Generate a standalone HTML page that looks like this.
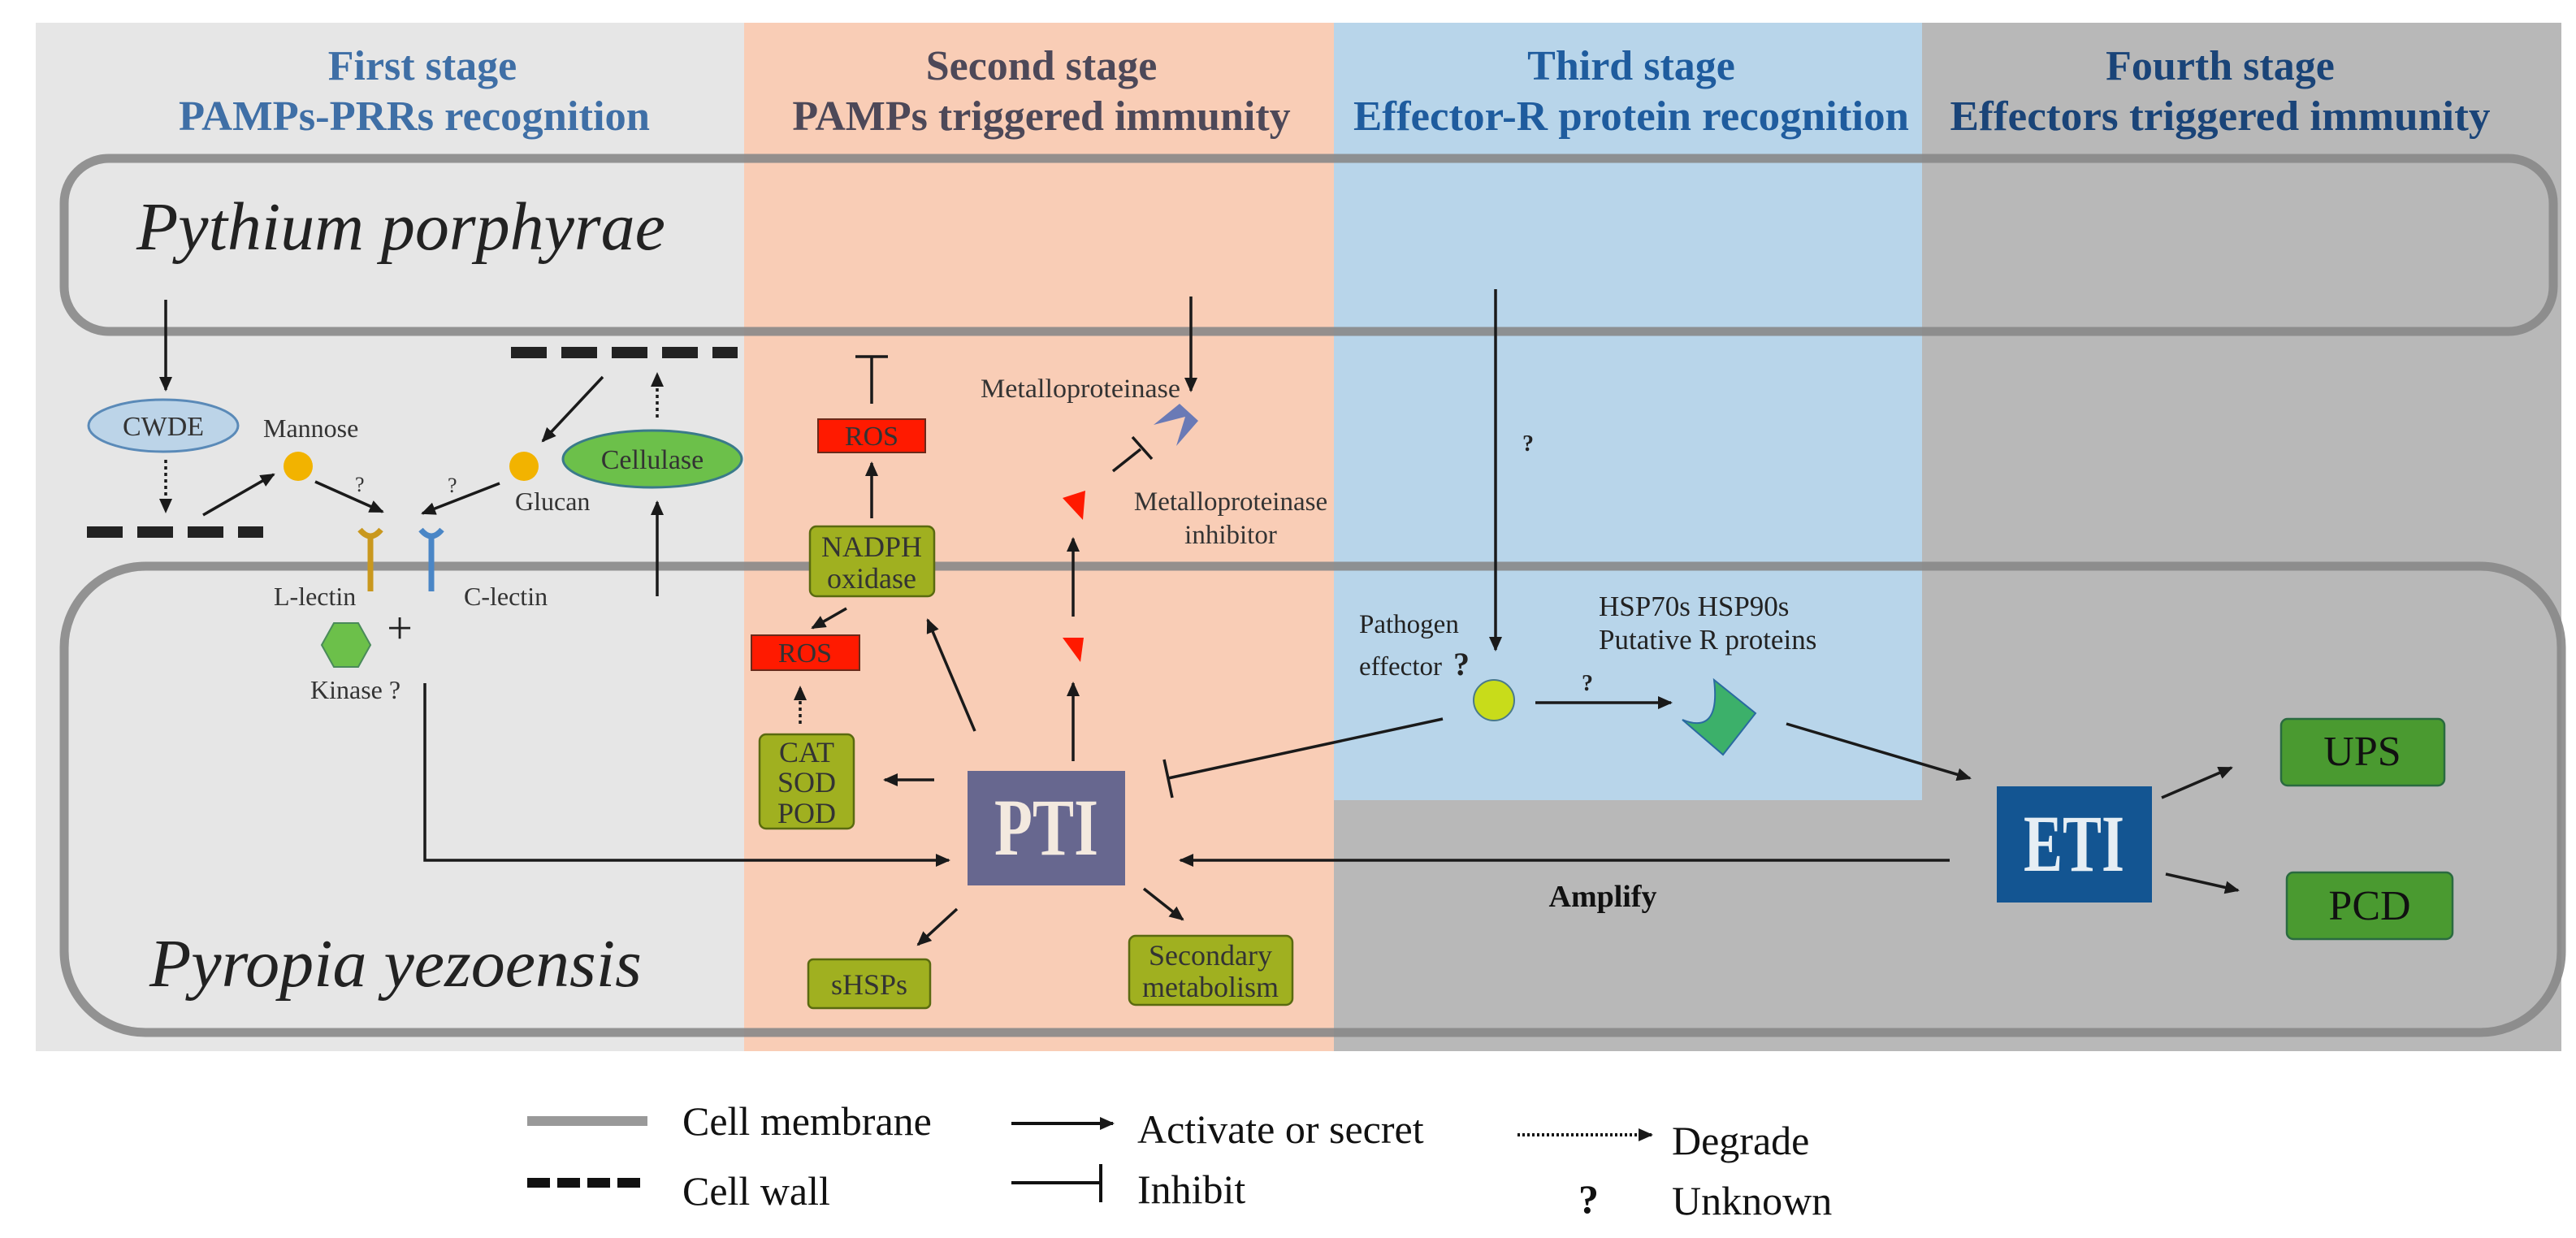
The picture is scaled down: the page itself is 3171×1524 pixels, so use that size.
<!DOCTYPE html>
<html><head><meta charset="utf-8"><style>
html,body{margin:0;padding:0;background:#fff}
svg{display:block}
text{font-family:"Liberation Serif",serif}
</style></head><body>
<svg width="3171" height="1524" viewBox="0 0 3171 1524" xmlns="http://www.w3.org/2000/svg">
<defs>
<marker id="ab" markerWidth="18" markerHeight="16" refX="16" refY="8" orient="auto" markerUnits="userSpaceOnUse"><path d="M0,0 L18,8 L0,16 z" fill="#1a1a1a"/></marker>
</defs>
<rect x="44" y="28" width="872" height="1266" fill="#e6e6e6"/>
<rect x="916" y="28" width="726" height="1266" fill="#f9cdb6"/>
<rect x="1642" y="28" width="724" height="957" fill="#b8d5ea"/>
<rect x="2366" y="28" width="787" height="1266" fill="#b8b8b8"/>
<rect x="1642" y="985" width="724" height="309" fill="#b8b8b8"/>
<g font-weight="bold" font-size="52" text-anchor="middle">
<text x="520" y="98" fill="#3f6fa6">First stage</text>
<text x="510" y="160" fill="#3f6fa6" textLength="580" lengthAdjust="spacingAndGlyphs">PAMPs-PRRs recognition</text>
<text x="1282" y="98" fill="#4d4858">Second stage</text>
<text x="1282" y="160" fill="#4d4858">PAMPs triggered immunity</text>
<text x="2008" y="98" fill="#1f5c9e">Third stage</text>
<text x="2008" y="160" fill="#1f5c9e" textLength="684" lengthAdjust="spacingAndGlyphs">Effector-R protein recognition</text>
<text x="2733" y="98" fill="#1a4478">Fourth stage</text>
<text x="2733" y="160" fill="#1a4478" textLength="665" lengthAdjust="spacingAndGlyphs">Effectors triggered immunity</text>
</g>
<rect x="79" y="195" width="3064" height="213" rx="55" fill="none" stroke="#888" stroke-width="11" opacity="0.9"/>
<rect x="79" y="697" width="3074" height="574" rx="100" fill="none" stroke="#888" stroke-width="11" opacity="0.9"/>
<text x="168" y="307" font-size="84" font-style="italic" fill="#222">Pythium porphyrae</text>
<text x="184" y="1214" font-size="84" font-style="italic" fill="#222">Pyropia yezoensis</text>
<g stroke="#222" stroke-width="14">
<path d="M107,655 H324" stroke-dasharray="44,18"/>
<path d="M629,434 H908" stroke-dasharray="44,18"/>
</g>
<g stroke="#1a1a1a" stroke-width="3.5" fill="none">
<line x1="204" y1="369" x2="204" y2="480" marker-end="url(#ab)"/>
<line x1="204" y1="566" x2="204" y2="630" stroke-dasharray="4,4" marker-end="url(#ab)"/>
<line x1="250" y1="634" x2="337" y2="584" marker-end="url(#ab)"/>
<line x1="388" y1="593" x2="471" y2="630" marker-end="url(#ab)"/>
<line x1="615" y1="595" x2="520" y2="632" marker-end="url(#ab)"/>
<line x1="742" y1="464" x2="668" y2="543" marker-end="url(#ab)"/>
<line x1="809" y1="514" x2="809" y2="460" stroke-dasharray="4,4" marker-end="url(#ab)"/>
<line x1="809" y1="734" x2="809" y2="618" marker-end="url(#ab)"/>
<polyline points="523,841 523,1059 1168,1059" marker-end="url(#ab)"/>
<line x1="1073" y1="497" x2="1073" y2="439"/><line x1="1053" y1="439" x2="1093" y2="439"/>
<line x1="1073" y1="638" x2="1073" y2="570" marker-end="url(#ab)"/>
<line x1="1042" y1="749" x2="1000" y2="773" marker-end="url(#ab)"/>
<line x1="985" y1="891" x2="985" y2="846" stroke-dasharray="4,4" marker-end="url(#ab)"/>
<line x1="1150" y1="960" x2="1089" y2="960" marker-end="url(#ab)"/>
<line x1="1200" y1="900" x2="1142" y2="763" marker-end="url(#ab)"/>
<line x1="1321" y1="937" x2="1321" y2="841" marker-end="url(#ab)"/>
<line x1="1321" y1="759" x2="1321" y2="663" marker-end="url(#ab)"/>
<line x1="1370" y1="580" x2="1404" y2="553"/><line x1="1394" y1="538" x2="1418" y2="565"/>
<line x1="1466" y1="365" x2="1466" y2="481" marker-end="url(#ab)"/>
<line x1="1178" y1="1119" x2="1130" y2="1163" marker-end="url(#ab)"/>
<line x1="1408" y1="1094" x2="1456" y2="1132" marker-end="url(#ab)"/>
<line x1="2400" y1="1059" x2="1453" y2="1059" marker-end="url(#ab)"/>
<line x1="1776" y1="885" x2="1438" y2="958"/><line x1="1433" y1="935" x2="1443" y2="982"/>
<line x1="1841" y1="356" x2="1841" y2="800" marker-end="url(#ab)"/>
<line x1="1890" y1="865" x2="2057" y2="865" marker-end="url(#ab)"/>
<line x1="2199" y1="891" x2="2425" y2="958" marker-end="url(#ab)"/>
<line x1="2661" y1="982" x2="2747" y2="945" marker-end="url(#ab)"/>
<line x1="2666" y1="1076" x2="2755" y2="1096" marker-end="url(#ab)"/>
</g>
<ellipse cx="201" cy="524" rx="92" ry="32" fill="#bcd4e8" stroke="#5a8ab8" stroke-width="3"/>
<text x="201" y="536" font-size="34" text-anchor="middle" fill="#333">CWDE</text>
<circle cx="367" cy="574" r="18" fill="#f2b300"/>
<text x="324" y="538" font-size="32" fill="#333">Mannose</text>
<text x="437" y="605" font-size="26" fill="#333">?</text>
<circle cx="645" cy="574" r="18" fill="#f2b300"/>
<text x="634" y="628" font-size="32" fill="#333">Glucan</text>
<text x="551" y="606" font-size="26" fill="#333">?</text>
<ellipse cx="803" cy="565" rx="110" ry="35" fill="#6cc04a" stroke="#3a7a8a" stroke-width="3"/>
<text x="803" y="577" font-size="34" text-anchor="middle" fill="#333">Cellulase</text>
<path d="M456,728 V660 M443,652 Q456,668 469,652" stroke="#c9981e" stroke-width="7" fill="none"/>
<path d="M531,728 V660 M518,652 Q531,668 544,652" stroke="#4a86c6" stroke-width="7" fill="none"/>
<text x="337" y="745" font-size="32" fill="#333">L-lectin</text>
<text x="571" y="745" font-size="32" fill="#333">C-lectin</text>
<polygon points="396,794 411,767 441,767 456,794 441,821 411,821" fill="#6cc04a" stroke="#4a8a5a" stroke-width="2"/>
<text x="492" y="792" font-size="56" text-anchor="middle" fill="#222">+</text>
<text x="382" y="860" font-size="32" fill="#333">Kinase ?</text>
<g stroke="#6a2a1a" stroke-width="2">
<rect x="1007" y="516" width="132" height="41" fill="#ff1a00"/>
<rect x="925" y="782" width="133" height="43" fill="#ff1a00"/>
</g>
<text x="1073" y="548" font-size="34" text-anchor="middle" fill="#333">ROS</text>
<text x="991" y="815" font-size="34" text-anchor="middle" fill="#333">ROS</text>
<g fill="#a0b020" stroke="#5a6a10" stroke-width="2.5">
<rect x="997" y="648" width="153" height="86" rx="8"/>
<rect x="935" y="904" width="116" height="116" rx="8"/>
<rect x="995" y="1181" width="150" height="60" rx="6"/>
<rect x="1390" y="1152" width="201" height="85" rx="8"/>
</g>
<g font-size="36" text-anchor="middle" fill="#333">
<text x="1073" y="685">NADPH</text><text x="1073" y="724">oxidase</text>
<text x="993" y="938">CAT</text><text x="993" y="975">SOD</text><text x="993" y="1013">POD</text>
<text x="1070" y="1224">sHSPs</text>
<text x="1490" y="1188">Secondary</text><text x="1490" y="1227">metabolism</text>
</g>
<rect x="1191" y="949" width="194" height="141" fill="#67678f"/>
<text x="1288" y="1052" font-size="100" font-weight="bold" text-anchor="middle" fill="#f3e9df" textLength="128" lengthAdjust="spacingAndGlyphs">PTI</text>
<polygon points="1308,785 1334,785 1330,815" fill="#ff1a00"/>
<polygon points="1308,613 1336,604 1333,640" fill="#ff1a00"/>
<polygon points="1420,523 1452,497 1475,518 1448,549 1459,513" fill="#6a7ab6"/>
<text x="1207" y="489" font-size="33" fill="#333" textLength="246" lengthAdjust="spacingAndGlyphs">Metalloproteinase</text>
<text x="1515" y="628" font-size="33" text-anchor="middle" fill="#333">Metalloproteinase</text>
<text x="1515" y="669" font-size="33" text-anchor="middle" fill="#333">inhibitor</text>
<text x="1874" y="555" font-size="28" font-weight="bold" fill="#222">?</text>
<text x="1673" y="779" font-size="33" fill="#222">Pathogen</text>
<text x="1673" y="831" font-size="33" fill="#222">effector</text>
<text x="1789" y="831" font-size="40" font-weight="bold" fill="#222">?</text>
<circle cx="1839" cy="862" r="25" fill="#c8dc1a" stroke="#4a7a8a" stroke-width="2"/>
<text x="1947" y="850" font-size="28" font-weight="bold" fill="#222">?</text>
<text x="1968" y="758" font-size="35" fill="#222">HSP70s  HSP90s</text>
<text x="1968" y="799" font-size="35" fill="#222">Putative R proteins</text>
<path d="M2110,837 L2161,878 L2121,929 L2071,886 Q2118,905 2110,837 z" fill="#3cb06a" stroke="#2a6aa0" stroke-width="2"/>
<rect x="2458" y="968" width="191" height="143" fill="#135592"/>
<text x="2553" y="1072" font-size="100" font-weight="bold" text-anchor="middle" fill="#e6eef4" textLength="124" lengthAdjust="spacingAndGlyphs">ETI</text>
<g fill="#4a9a30" stroke="#2a6a40" stroke-width="2.5">
<rect x="2808" y="885" width="201" height="82" rx="8"/>
<rect x="2815" y="1074" width="204" height="82" rx="8"/>
</g>
<text x="2908" y="942" font-size="52" text-anchor="middle" fill="#111">UPS</text>
<text x="2917" y="1132" font-size="52" text-anchor="middle" fill="#111">PCD</text>
<text x="1973" y="1116" font-size="38" font-weight="bold" text-anchor="middle" fill="#111">Amplify</text>
<line x1="649" y1="1380" x2="797" y2="1380" stroke="#999" stroke-width="12"/>
<path d="M649,1456 H797" stroke="#111" stroke-width="12" stroke-dasharray="28,9"/>
<g stroke="#111" stroke-width="4" fill="none">
<line x1="1245" y1="1383" x2="1370" y2="1383" marker-end="url(#ab)"/>
<line x1="1245" y1="1456" x2="1355" y2="1456"/><line x1="1355" y1="1433" x2="1355" y2="1480"/>
<line x1="1868" y1="1397" x2="2033" y2="1397" stroke-dasharray="3,3" marker-end="url(#ab)"/>
</g>
<g font-size="50" fill="#111">
<text x="840" y="1397">Cell membrane</text>
<text x="840" y="1483">Cell wall</text>
<text x="1400" y="1407">Activate or secret</text>
<text x="1400" y="1481">Inhibit</text>
<text x="2058" y="1421">Degrade</text>
<text x="2058" y="1495">Unknown</text>
<text x="1943" y="1493" font-weight="bold">?</text>
</g>
</svg>
</body></html>
